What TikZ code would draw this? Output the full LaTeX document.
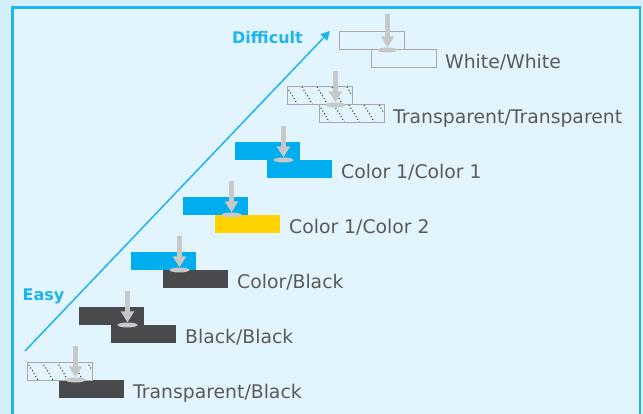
\documentclass[tikz,border=0pt]{standalone}
\usepackage{fontspec}
\setmainfont{DejaVu Sans}
\usetikzlibrary{arrows.meta,shapes.geometric}
\definecolor{outerbg}{HTML}{D4EEFB}
\definecolor{innerbg}{HTML}{E2F4FD}
\definecolor{frame}{HTML}{1EB4EE}
\definecolor{cyanbox}{HTML}{00AEEF}
\definecolor{yellowbox}{HTML}{FFD200}
\definecolor{darkbox}{HTML}{4A4A4C}
\definecolor{arrowgray}{HTML}{C8C8C8}
\definecolor{boxborder}{HTML}{A8A8A8}
\definecolor{labeltext}{HTML}{5A5A5A}
\tikzset{
  x=1pt, y=-1pt,
  sheet/.style={rectangle, anchor=north west, minimum width=65pt, minimum height=18pt, inner sep=0pt, outer sep=0pt},
  whitesheet/.style={sheet, draw=boxborder, line width=1pt},
  clearsheet/.style={sheet, draw=boxborder, line width=1pt},
  cyansheet/.style={sheet, fill=cyanbox},
  yellowsheet/.style={sheet, fill=yellowbox},
  darksheet/.style={sheet, fill=darkbox},
  junction/.style={ellipse, fill=arrowgray, minimum width=20pt, minimum height=5pt, inner sep=0pt},
  pressarrow/.style={draw=arrowgray, line width=5pt, -{Triangle[width=13pt,length=11pt]}},
  steplabel/.style={anchor=base west, inner sep=0pt, text=labeltext, font=\fontsize{18.8}{21}\selectfont},
  axislabel/.style={inner sep=0pt, text=frame, font=\fontsize{16}{18}\selectfont\bfseries},
  hatchdots/.style={line width=0.9pt, black, dash pattern=on 0.9pt off 2.4pt},
}
\newcommand{\hatchbox}[1]{%
  \begin{scope}
    \clip (#1.north west) rectangle (#1.south east);
    \foreach \i in {-2,...,5} {
      \draw[hatchdots] ([xshift=\i*15pt]#1.north west) -- ++(11pt,-18pt);
    }
  \end{scope}
  \draw[boxborder, line width=1pt] (#1.north west) rectangle (#1.south east);
}
\begin{document}
\begin{tikzpicture}
\useasboundingbox (0,0) rectangle (643,414);
\fill[outerbg] (0,0) rectangle (643,414);
\filldraw[fill=innerbg, draw=frame, line width=2.5pt] (12.5,7.5) rectangle (640,430);

% diagonal
\coordinate (easyend) at (25,351);
\coordinate (hardend) at (330,31);
\draw[frame, line width=1.5pt, -{Triangle[width=9pt,length=9pt]}] (easyend) -- (hardend);
\node[axislabel] (easy) at (43.5,296) {Easy};
\node[axislabel] (difficult) at (267.5,38) {Difficult};

% step 1: Transparent/Black
\node[clearsheet] (t1) at (27,362) {};
\node[darksheet] (b1) at (59,380) {};
\hatchbox{t1}
\node[junction] (j1) at (75.5,380) {};
\coordinate (a1) at (75.5,346);
\draw[pressarrow] (a1) -- (j1.north);
\node[steplabel, xshift=9pt, yshift=-0.5pt] (l1) at (b1.south east) {Transparent/Black};

% step 2: Black/Black
\node[darksheet] (t2) at (79,307) {};
\node[darksheet] (b2) at (111,325) {};
\node[junction] (j2) at (127.5,325) {};
\coordinate (a2) at (127.5,291);
\draw[pressarrow] (a2) -- (j2.north);
\node[steplabel, xshift=9pt, yshift=-0.5pt] (l2) at (b2.south east) {Black/Black};

% step 3: Color/Black
\node[cyansheet] (t3) at (131,252) {};
\node[darksheet] (b3) at (163,270) {};
\node[junction] (j3) at (179.5,270) {};
\coordinate (a3) at (179.5,236);
\draw[pressarrow] (a3) -- (j3.north);
\node[steplabel, xshift=9pt, yshift=-0.5pt] (l3) at (b3.south east) {Color/Black};

% step 4: Color 1/Color 2
\node[cyansheet] (t4) at (183,197) {};
\node[yellowsheet] (b4) at (215,215) {};
\node[junction] (j4) at (231.5,215) {};
\coordinate (a4) at (231.5,181);
\draw[pressarrow] (a4) -- (j4.north);
\node[steplabel, xshift=9pt, yshift=-0.5pt] (l4) at (b4.south east) {Color 1/Color 2};

% step 5: Color 1/Color 1
\node[cyansheet] (t5) at (235,142) {};
\node[cyansheet] (b5) at (267,160) {};
\node[junction] (j5) at (283.5,160) {};
\coordinate (a5) at (283.5,126);
\draw[pressarrow] (a5) -- (j5.north);
\node[steplabel, xshift=9pt, yshift=-0.5pt] (l5) at (b5.south east) {Color 1/Color 1};

% step 6: Transparent/Transparent
\node[clearsheet] (t6) at (287,87) {};
\node[clearsheet] (b6) at (319,105) {};
\hatchbox{t6}
\hatchbox{b6}
\node[junction] (j6) at (335.5,105) {};
\coordinate (a6) at (335.5,71);
\draw[pressarrow] (a6) -- (j6.north);
\node[steplabel, xshift=9pt, yshift=-0.5pt] (l6) at (b6.south east) {Transparent/Transparent};

% step 7: White/White
\node[whitesheet] (t7) at (339,32) {};
\node[whitesheet] (b7) at (371,50) {};
\node[junction] (j7) at (387.5,50) {};
\coordinate (a7) at (387.5,14);
\draw[pressarrow] (a7) -- (j7.north);
\node[steplabel, xshift=9pt, yshift=-0.5pt] (l7) at (b7.south east) {White/White};
\end{tikzpicture}
\end{document}
